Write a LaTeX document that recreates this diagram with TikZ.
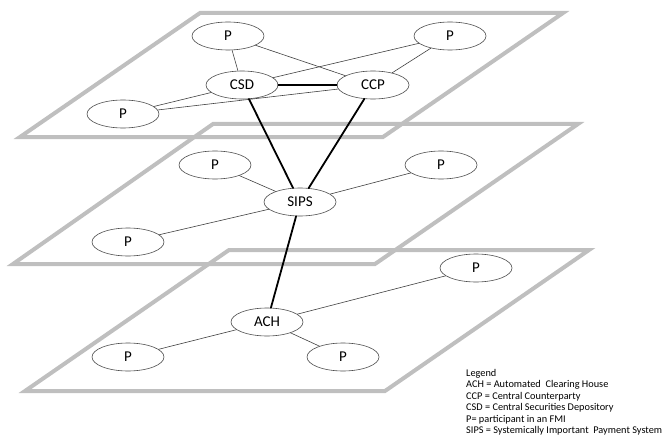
\documentclass[tikz,border=0pt]{standalone}
\usepackage{fontspec}
\setmainfont{Carlito}
\usetikzlibrary{shapes.geometric}
\tikzset{
  plane/.style={draw=black!25, line width=4pt, line join=miter},
  fmi/.style={ellipse, draw=black!70, line width=0.6pt, fill=white,
    minimum width=72pt, minimum height=28pt, inner sep=0pt,
    font=\fontsize{15}{15}\selectfont},
  link/.style={draw=black!75, line width=0.6pt},
  hub/.style={draw=black, line width=1.8pt}
}
\begin{document}
\begin{tikzpicture}[x=1pt, y=-1pt, line cap=round]
\useasboundingbox (0,0) rectangle (666,441);
% planes
\draw[plane] (200,13) -- (563,13) -- (383,137) -- (20,137) -- cycle;
\draw[plane] (213,124) -- (578,124) -- (375,264) -- (13,264) -- cycle;
\draw[plane] (229,250) -- (589,250) -- (385,391) -- (25,391) -- cycle;
% top layer
\node[fmi] (csd) at (242,85) {CSD};
\node[fmi] (ccp) at (373,85) {CCP};
\node[fmi] (ptl) at (228,36) {P};
\node[fmi] (ptr) at (450,36) {P};
\node[fmi] (pbl) at (123,114) {P};
% middle layer
\node[fmi] (sips) at (300,202) {SIPS};
\node[fmi] (pml) at (215,165) {P};
\node[fmi] (pmr) at (441,165) {P};
\node[fmi] (pmb) at (128,242) {P};
% bottom layer
\node[fmi] (ach) at (267,322) {ACH};
\node[fmi] (plr) at (476,268) {P};
\node[fmi] (pll) at (128,357) {P};
\node[fmi] (plm) at (343,357) {P};
% participants
\draw[link] (ptl) -- (csd);
\draw[link] (ptl) -- (ccp);
\draw[link] (ptr) -- (csd);
\draw[link] (ptr) -- (ccp);
\draw[link] (pbl) -- (csd);
\draw[link] (pbl) -- (ccp);
\draw[link] (pml) -- (sips);
\draw[link] (pmr) -- (sips);
\draw[link] (pmb) -- (sips);
\draw[link] (plr) -- (ach);
\draw[link] (pll) -- (ach);
\draw[link] (plm) -- (ach);
% FMI links
\draw[hub] (csd) -- (ccp);
\draw[hub] (csd) -- (sips);
\draw[hub] (ccp) -- (sips);
\draw[hub] (sips) -- (ach);
% legend
\node[anchor=north west, align=left, inner sep=0pt,
  font=\fontsize{10.3}{11.5}\selectfont] (legend) at (466,369)
  {Legend\\
   ACH = Automated~ Clearing House\\
   CCP = Central Counterparty\\
   CSD = Central Securities Depository\\
   P= participant in an FMI\\
   SIPS = Systemically Important~ Payment System};
\end{tikzpicture}
\end{document}
